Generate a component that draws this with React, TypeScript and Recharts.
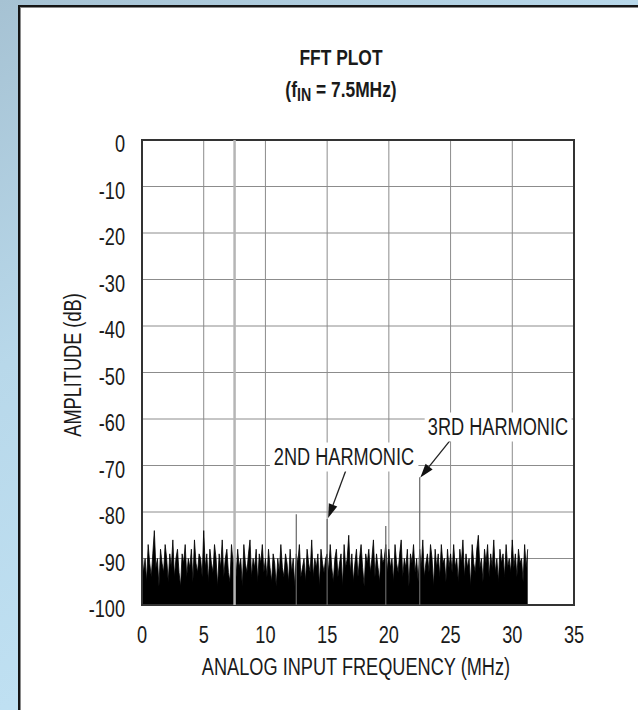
import React from "react";
import {
  ComposedChart,
  Line,
  Area,
  XAxis,
  YAxis,
  CartesianGrid,
  ReferenceArea,
  ReferenceLine,
} from "recharts";

// no narrow font installed, so Liberation Sans gets squeezed horizontally
const FONT = "'Liberation Sans', Arial, sans-serif";
const SQUEEZE = 0.79;

// FFT bin spacing in MHz
const BIN = 0.125;

// noise floor, one value per bin
const noise0to5 = [
  -88, -93, -90, -95, -87, -91, -94, -89, -84, -92, -90, -96, -88, -91, -93, -87, -90, -95, -89, -92,
  -86, -94, -90, -88, -93, -96, -89, -91, -87, -94, -90, -92, -88, -95, -86, -91, -93, -89, -90, -94,
];
const noise5to10 = [
  -84, -92, -89, -95, -88, -91, -93, -87, -90, -96, -89, -92, -86, -94, -90, -88, -93, -95, -87, -91,
  -89, -94, -88, -92, -90, -96, -87, -91, -93, -89, -86, -94, -90, -92, -88, -95, -89, -91, -87, -93,
];
const noise10to15 = [
  -90, -94, -88, -92, -95, -89, -91, -96, -90, -93, -87, -92, -94, -89, -91, -95, -88, -93, -90, -96,
  -89, -91, -87, -94, -92, -90, -95, -88, -91, -93, -86, -94, -90, -92, -89, -96, -88, -91, -93, -90,
];
const noise15to20 = [
  -89, -93, -87, -92, -95, -90, -88, -94, -91, -89, -96, -87, -92, -90, -85, -93, -89, -95, -91, -88,
  -94, -90, -87, -92, -96, -89, -91, -88, -93, -90, -86, -94, -89, -92, -95, -88, -91, -90, -87, -93,
];
const noise20to25 = [
  -88, -92, -90, -95, -87, -91, -93, -89, -86, -94, -90, -92, -88, -96, -89, -91, -87, -93, -90, -95,
  -88, -92, -86, -94, -91, -89, -93, -87, -90, -96, -88, -92, -89, -94, -87, -91, -90, -95, -88, -92,
];
const noise25to30 = [
  -89, -93, -87, -92, -90, -95, -88, -91, -86, -94, -89, -92, -90, -96, -87, -91, -93, -88, -85, -92,
  -90, -95, -88, -91, -87, -94, -89, -92, -86, -93, -90, -95, -88, -91, -89, -94, -87, -92, -90, -93,
];
const noise30to31 = [-86, -92, -89, -94, -88, -91, -90, -95, -87, -92, -88];

const noiseStart = [0, 5, 10, 15, 20, 25, 30];
const noiseBlocks = [noise0to5, noise5to10, noise10to15, noise15to20, noise20to25, noise25to30, noise30to31];

// fundamental and spurs (MHz, dB)
const fundamentalFreq = 7.5;
const fundamentalLevel = 0;
const spurFreq = [12.5, 15, 19.75, 22.5];
const spurLevel = [-80.5, -81.5, -83, -72.5];

const freqTicks = [0, 5, 10, 15, 20, 25, 30, 35];
const ampTicks = [0, -10, -20, -30, -40, -50, -60, -70, -80, -90, -100];

// annotation arrows in data units
const arrowFrom = [
  { x: 16.5, y: -71.2 },
  { x: 25.0, y: -64.5 },
];
const arrowTo = [
  { x: 15.08, y: -81.3 },
  { x: 22.55, y: -72.6 },
];

const noise = noiseBlocks.flatMap((block, b) => block.map((a, i) => ({ f: noiseStart[b] + i * BIN, a })));
const fundamental = [
  { f: fundamentalFreq, a: -100 },
  { f: fundamentalFreq, a: fundamentalLevel },
];
const spurs = spurFreq.map((f, i) => [
  { f, a: -100 },
  { f, a: spurLevel[i] },
]);

const squeezeAt = (x: number) => `translate(${x} 0) scale(${SQUEEZE} 1) translate(${-x} 0)`;

const XTick = (p: any) => (
  <text
    x={p.x}
    y={p.y}
    dy="0.71em"
    textAnchor="middle"
    fill="#1a1a1a"
    fontSize={23}
    fontFamily={FONT}
    transform={squeezeAt(p.x)}
  >
    {p.payload.value}
  </text>
);

const YTick = (p: any) => (
  <text
    x={p.x}
    y={p.y + 4}
    dy="0.355em"
    textAnchor="end"
    fill="#1a1a1a"
    fontSize={23}
    fontFamily={FONT}
    transform={squeezeAt(p.x)}
  >
    {p.payload.value}
  </text>
);

const Arrow = (p: any) => {
  const { x1, y1, x2, y2 } = p;
  const ang = Math.atan2(y2 - y1, x2 - x1);
  const L = 14;
  const W = 4.5;
  const bx = x2 - L * Math.cos(ang);
  const by = y2 - L * Math.sin(ang);
  const px = -Math.sin(ang) * W;
  const py = Math.cos(ang) * W;
  return (
    <g>
      <line x1={x1} y1={y1} x2={bx} y2={by} stroke="#222" strokeWidth={1.3} />
      <polygon points={`${x2},${y2} ${bx + px},${by + py} ${bx - px},${by - py}`} fill="#111" />
    </g>
  );
};

const txt: React.CSSProperties = {
  position: "absolute",
  fontFamily: FONT,
  color: "#1a1a1a",
  lineHeight: 1,
  whiteSpace: "nowrap",
  transform: `translate(-50%, -50%) scaleX(${SQUEEZE})`,
};

export default function App() {
  return (
    <div
      style={{
        position: "absolute",
        left: 0,
        top: 0,
        width: 638,
        height: 710,
        overflow: "hidden",
        background: "linear-gradient(150deg, #a6c2d3 0%, #b8d8ea 34%, #bfe0f2 66%, #c4e4f6 100%)",
      }}
    >
      <div
        style={{
          position: "absolute",
          left: 18,
          top: 5,
          width: 700,
          height: 800,
          background: "#fff",
          borderLeft: "2px solid #151515",
          borderTop: "2px solid #151515",
          boxShadow: "inset 1px 1px 0 #8a8a8a",
        }}
      />
      <div style={{ position: "absolute", left: 0, top: 0 }}>
        <ComposedChart width={638} height={710} margin={{ top: 140, right: 64, bottom: 75, left: 82 }}>
          <CartesianGrid stroke="#8c8c8c" strokeWidth={1} />
          <XAxis
            type="number"
            dataKey="f"
            domain={[0, 35]}
            ticks={freqTicks}
            allowDataOverflow
            axisLine={false}
            tickLine={false}
            tickSize={0}
            tickMargin={22}
            height={30}
            tick={XTick}
          />
          <YAxis
            type="number"
            domain={[-100, 0]}
            ticks={ampTicks}
            allowDataOverflow
            axisLine={false}
            tickLine={false}
            tickSize={0}
            tickMargin={17}
            width={60}
            tick={YTick}
          />
          {spurs.map((d, i) => (
            <Line
              key={i}
              data={d}
              dataKey="a"
              type="linear"
              stroke="#666"
              strokeWidth={1.2}
              dot={false}
              activeDot={false}
              isAnimationActive={false}
            />
          ))}
          <Area
            data={noise}
            dataKey="a"
            type="linear"
            baseValue={-100}
            fill="#000"
            fillOpacity={1}
            stroke="#000"
            strokeWidth={0.8}
            dot={false}
            activeDot={false}
            isAnimationActive={false}
          />
          <Line
            data={fundamental}
            dataKey="a"
            type="linear"
            stroke="#b5b5b5"
            strokeWidth={2.5}
            dot={false}
            activeDot={false}
            isAnimationActive={false}
          />
          <ReferenceArea x1={0} x2={35} y1={-100} y2={0} fill="none" stroke="#333" strokeWidth={2} />
          {arrowFrom.map((s, i) => (
            <ReferenceLine key={i} segment={[s, arrowTo[i]]} shape={Arrow} />
          ))}
        </ComposedChart>
      </div>
      <div style={{ ...txt, left: 341, top: 58, fontSize: 22, fontWeight: 700 }}>FFT PLOT</div>
      <div style={{ ...txt, left: 341, top: 91, fontSize: 22, fontWeight: 700 }}>
        (f<span style={{ fontSize: 18, verticalAlign: -4 }}>IN</span> = 7.5MHz)
      </div>
      <div
        style={{
          ...txt,
          left: 73,
          top: 365,
          fontSize: 23,
          transform: `translate(-50%, -50%) rotate(-90deg) scaleX(${SQUEEZE})`,
        }}
      >
        AMPLITUDE (dB)
      </div>
      <div style={{ ...txt, left: 356, top: 667, fontSize: 23 }}>ANALOG INPUT FREQUENCY (MHz)</div>
      <div style={{ ...txt, left: 343.5, top: 457, fontSize: 23, background: "#fff", padding: "3px 5px" }}>
        2ND HARMONIC
      </div>
      <div style={{ ...txt, left: 497.5, top: 427, fontSize: 23, background: "#fff", padding: "3px 4px" }}>
        3RD HARMONIC
      </div>
    </div>
  );
}
